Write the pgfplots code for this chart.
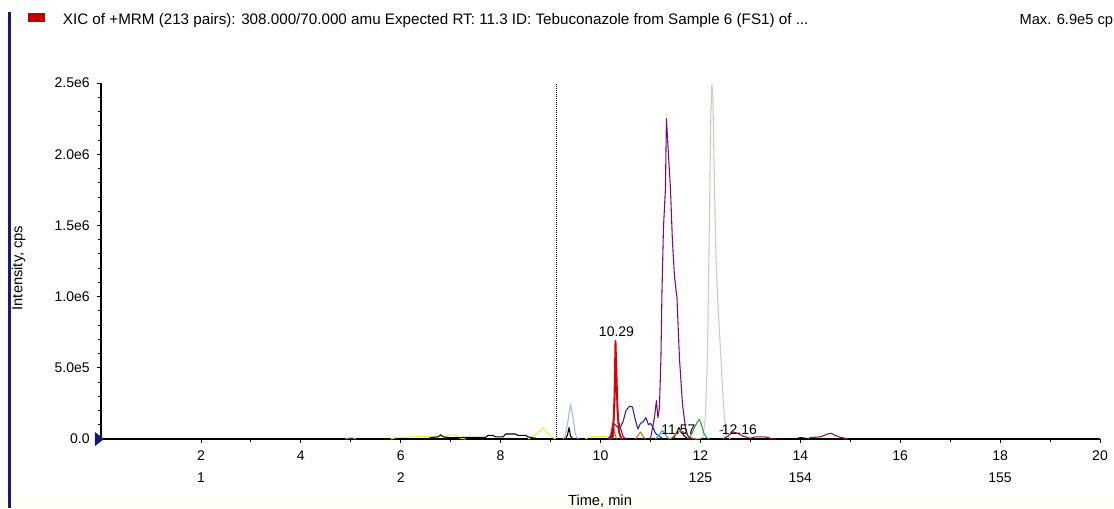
\documentclass[border=0pt]{standalone}
\usepackage{pgfplots}
\pgfplotsset{compat=1.18}
\usepackage{fontspec}
\setmainfont{Liberation Sans}
\definecolor{navy}{HTML}{1A1A70}
\definecolor{tred}{HTML}{E00000}
\definecolor{tpurple}{HTML}{7A0A7A}
\definecolor{tpale}{HTML}{BCD4BC}
\definecolor{tlblue}{HTML}{9CC0E0}
\definecolor{tblue}{HTML}{2222B0}
\definecolor{tyellow}{HTML}{F0F040}
\definecolor{tgreen}{HTML}{30A040}
\definecolor{tdred}{HTML}{8B1A1A}
\definecolor{tcyan}{HTML}{30B0B0}
\definecolor{torange}{HTML}{C07020}
\begin{document}
\begin{tikzpicture}
\useasboundingbox (0pt,0pt) rectangle (835.5pt,381pt);
\fill[white] (0pt,0pt) rectangle (835.5pt,381pt);
\fill[yellow!5] (0pt,0pt) rectangle (835.5pt,8.25pt);
\fill[navy] (6pt,0pt) rectangle (8.25pt,372pt);
\fill[tred!85!black] (21pt,364.5pt) rectangle (33.75pt,371.25pt);
\node[anchor=west, inner sep=0pt, font=\fontsize{11.4}{13}\selectfont] at (47pt,365.5pt) {XIC of +MRM (213 pairs): 308.000/70.000 amu Expected RT: 11.3 ID: Tebuconazole from Sample 6 (FS1) of ...};
\node[anchor=east, inner sep=0pt, font=\fontsize{11}{13}\selectfont] at (835pt,365.5pt) {Max. 6.9e5 cp};
\node[rotate=90, font=\fontsize{11}{13}\selectfont] at (14pt,180pt) {Intensity, cps};
\node[anchor=south, inner sep=0pt, font=\fontsize{11}{13}\selectfont] at (450pt,0.3pt) {Time, min};
\begin{axis}[
  at={(75.75pt,51.75pt)}, anchor=south west, scale only axis,
  width=749.25pt, height=267pt,
  xmin=0, xmax=20, ymin=0, ymax=2.5e6,
  axis lines=left, axis line style={-, black, line width=0.8pt},
  clip=false,
  tick align=outside, major tick length=3pt, minor tick length=2pt,
  tick style={black, line width=0.6pt},
  xtick={2,4,...,20},
  xticklabels={{2\\1},{4},{6\\2},{8},{10},{12\\125},{14\\154},{16},{18\\155},{20}},
  minor x tick num=1,
  ytick={0,5e5,1e6,1.5e6,2e6,2.5e6},
  yticklabels={0.0,5.0e5,1.0e6,1.5e6,2.0e6,2.5e6},
  minor y tick num=4,
  scaled y ticks=false,
  xticklabel style={align=center, font=\fontsize{10.5}{16.5}\selectfont, yshift=-2pt},
  yticklabel style={font=\fontsize{10.5}{12}\selectfont, xshift=-2pt},
  /pgf/number format/assume math mode=true,
  every axis plot/.append style={line width=0.8pt, line join=round},
]
% grey bump
\addplot[gray!70] coordinates {(4.9,0) (4.95,8e3) (5.05,8e3) (5.1,0)};
% yellow
\addplot[tyellow] coordinates {(5.8,0) (5.9,1e4) (6.2,1.5e4) (6.6,1.8e4) (6.9,2e4) (7.0,3e4) (7.1,2.5e4) (7.2,5e3) (7.3,0)};
\addplot[tyellow] coordinates {(8.55,0) (8.65,2e4) (8.75,4e4) (8.85,8e4) (8.92,5e4) (9.0,2e4) (9.1,0)};
\addplot[tyellow] coordinates {(9.7,0) (9.8,2e4) (9.95,1.5e4) (10.1,2e4) (10.2,0)};
% black noise
\addplot[black] coordinates {(6.55,0) (6.6,1e4) (6.75,1.5e4) (6.8,3e4) (6.85,1.5e4) (6.95,1e4) (7.2,1e4) (7.4,1.2e4) (7.7,1.2e4) (7.75,2.5e4) (7.85,2.5e4) (7.9,1.5e4) (8.05,1.5e4) (8.1,3.5e4) (8.3,3.5e4) (8.35,2.5e4) (8.5,2.5e4) (8.55,1.5e4) (8.65,8e3) (8.8,0)};
\addplot[black] coordinates {(9.3,0) (9.34,3e4) (9.37,8e4) (9.40,2e4) (9.45,0)};
\addplot[black] coordinates {(11.45,0) (11.52,4e4) (11.57,8e4) (11.62,5e4) (11.68,2e4) (11.75,0)};
\addplot[black] coordinates {(13.9,0) (14.0,1e4) (14.1,5e3) (14.2,0)};
% light blue
\addplot[tlblue] coordinates {(9.25,0) (9.3,3e4) (9.35,1.3e5) (9.40,2.45e5) (9.45,1.5e5) (9.5,3e4) (9.55,0)};
% pale green (largest)
\addplot[tpale] coordinates {(11.9,0) (12.05,1e4) (12.10,1.5e5) (12.14,5.7e5) (12.16,1.02e6) (12.19,1.8e6) (12.21,2.3e6) (12.23,2.49e6) (12.25,2.4e6) (12.27,2.0e6) (12.31,1.3e6) (12.34,1.02e6) (12.41,5.7e5) (12.46,2.5e5) (12.51,3e4) (12.6,0)};
% orange
\addplot[torange] coordinates {(10.15,0) (10.2,3e4) (10.25,1.2e5) (10.28,5e4) (10.32,0)};
\addplot[torange] coordinates {(10.7,0) (10.76,3e4) (10.8,5e4) (10.85,2e4) (10.9,0)};
\addplot[torange] coordinates {(11.4,0) (11.5,3e4) (11.6,6e4) (11.7,4e4) (11.8,1e4) (11.9,0)};
% navy blue
\addplot[tblue] coordinates {(10.15,0) (10.21,2e4) (10.26,1.1e5) (10.32,9e4) (10.38,7e4) (10.45,1.2e5) (10.51,2.0e5) (10.58,2.3e5) (10.64,2.25e5) (10.70,1.3e5) (10.75,7e4) (10.80,1.1e5) (10.85,1.2e5) (10.91,1.5e5) (10.96,1.0e5) (11.00,1.1e5) (11.04,9e4) (11.10,4e4) (11.18,2e4) (11.25,0)};
% cyan
\addplot[tcyan] coordinates {(11.1,0) (11.18,3e4) (11.24,6e4) (11.28,4e4) (11.34,1e4) (11.4,0)};
% green
\addplot[tgreen] coordinates {(11.75,0) (11.82,3e4) (11.88,8e4) (11.94,1.2e5) (11.98,1.4e5) (12.02,1.0e5) (12.07,4e4) (12.12,1e4) (12.18,0)};
% dark red
\addplot[tdred] coordinates {(12.45,0) (12.55,2e4) (12.65,5e4) (12.75,4e4) (12.85,2e4) (13.0,5e3) (13.1,1.5e4) (13.3,1.5e4) (13.4,5e3) (13.5,0)};
\addplot[tdred] coordinates {(14.15,0) (14.2,1e4) (14.4,1.5e4) (14.55,3.5e4) (14.62,4e4) (14.7,2.5e4) (14.8,1.2e4) (14.9,5e3) (14.95,0)};
% purple
\addplot[tpurple] coordinates {(10.15,0) (10.22,1e4) (10.27,1.5e5) (10.30,4.0e5) (10.33,3.0e5) (10.36,1.2e5) (10.40,8e4) (10.45,2e4) (10.5,0)};
\addplot[tpurple] coordinates {(11.0,0) (11.08,1.5e5) (11.12,2.7e5) (11.15,1.5e5) (11.18,2.2e5) (11.21,5.7e5) (11.23,1.02e6) (11.26,1.48e6) (11.30,1.76e6) (11.32,2.25e6) (11.36,2.0e6) (11.40,1.76e6) (11.44,1.39e6) (11.48,1.15e6) (11.51,1.05e6) (11.53,1.0e6) (11.58,5.7e5) (11.64,2.5e5) (11.70,8e4) (11.76,1e4) (11.85,0)};
% red (Tebuconazole)
\addplot[tred, line width=1.4pt] coordinates {(10.20,0) (10.25,2e4) (10.28,3e5) (10.30,6.9e5) (10.32,4.5e5) (10.34,2e5) (10.37,5e4) (10.42,0)};
% annotations
\draw[densely dotted, black, line width=0.5pt] (axis cs:9.12,0) -- (axis cs:9.12,2.5e6);
\fill[navy] (axis cs:0,0) ++(-4.5pt,5.25pt) -- ++(0,-10.5pt) -- ++(6.75pt,5.25pt) -- cycle;
\node[font=\fontsize{10.5}{12}\selectfont, anchor=south, inner sep=1pt] at (axis cs:10.32,7.1e5) {10.29};
\node[font=\fontsize{10.5}{12}\selectfont, inner sep=0pt] at (axis cs:11.56,6.3e4) {11.57};
\node[font=\fontsize{10.5}{12}\selectfont, inner sep=0pt] at (axis cs:12.78,6.3e4) {12.16};
\draw[black, line width=0.5pt] (axis cs:12.38,5.5e4) -- (axis cs:12.46,6.3e4);
\end{axis}
\end{tikzpicture}
\end{document}
